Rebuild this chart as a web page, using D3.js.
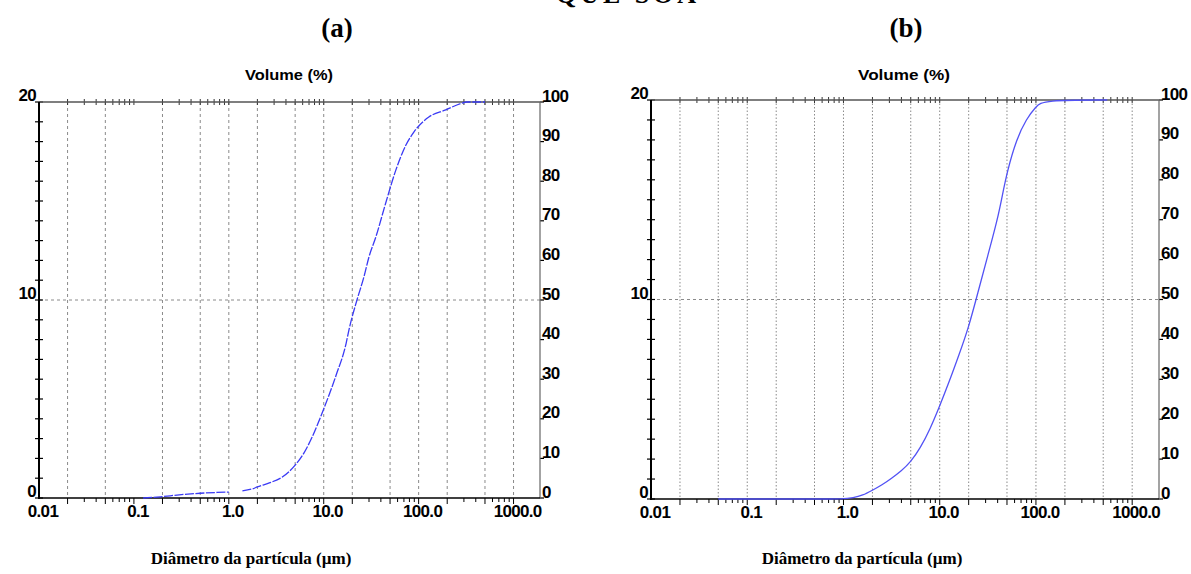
<!DOCTYPE html>
<html>
<head>
<meta charset="utf-8">
<script src="https://cdn.jsdelivr.net/npm/d3@7"></script>
<style>
    body { margin: 0; background: #fff; }
    .lab { font-family: "Liberation Sans", Arial, sans-serif; font-weight: bold; font-size: 17px; fill: #000; letter-spacing: -0.7px; }
    .vol { font-family: "Liberation Sans", Arial, sans-serif; font-weight: bold; font-size: 14px; fill: #000; }
    .serif { font-family: "Liberation Serif", "Times New Roman", serif; font-weight: bold; fill: #000; }
</style>
</head>
<body>
<script>
//particle size distribution, two samples

//x axis labels (µm) and where they sit
var xTickVals = [0.01, 0.1, 1, 10, 100, 1000];
var xTickLabels = ["0.01", "0.1", "1.0", "10.0", "100.0", "1000.0"];
var xDomain = [0.01, 1900];

//left (volume) and right (cumulative) axis labels
var leftTickVals = [0, 10, 20];
var rightTickVals = [0, 10, 20, 30, 40, 50, 60, 70, 80, 90, 100];

//sample (a): diameter (µm) and cumulative volume (%), null = break in the trace
var sizesA = [0.125, 0.19, 0.3, 0.5, 0.75, 1.0, null, 1.39, 1.77, 2.0, 2.67, 3.66, 5.0, 6.2, 7.55, 10, 13.5, 17.2, 18.5,
    22.4, 26.5, 30, 35.5, 45, 57.5, 73, 89, 128, 193, 284, 320, 500];
var cumA = [0, 0.3, 0.8, 1.2, 1.4, 1.5, null, 1.8, 2.3, 2.8, 3.8, 5.3, 8.3, 11.4, 15.4, 22.5, 31, 39, 42.6,
    50, 55.8, 60.9, 66, 74.5, 82.8, 89, 92.4, 96.2, 98, 99.7, 100, 100];

//sample (b)
var sizesB = [0.05, 0.5, 1.0, 1.26, 1.58, 2.0, 2.51, 3.16, 3.98, 5.0, 6.3, 7.94, 10, 12.6, 15.8, 20, 25.1, 31.6,
    39.8, 44.7, 50.1, 63, 79.4, 100, 120, 550];
var cumB = [0, 0, 0, 0.3, 0.9, 2.2, 3.5, 5.2, 7.0, 9.3, 12.8, 17.5, 23.3, 29.5, 36, 43, 52, 61,
    70, 76, 82, 90.3, 95.2, 98.4, 100, 100];

//gridline positions (a has none at 0.1)
var gridA = [0.02, 0.05, 0.2, 0.5, 1, 2, 5, 10, 20, 50, 100, 200, 500, 1000];
var gridB = [0.02, 0.05, 0.1, 0.2, 0.5, 1, 2, 5, 10, 20, 50, 100, 200, 500, 1000];

window.onload = function(){

    var w = 1191, h = 574;

    var svg = d3.select("body")
        .append("svg")
        .attr("width", w)
        .attr("height", h);

    //cropped heading of the page, only the bottom shows
    svg.append("text")
        .attr("class", "serif")
        .attr("x", 556)
        .attr("y", 3)
        .attr("font-size", 26)
        .attr("textLength", 140)
        .text("QUE SOA");

    drawPanel({
        tag: "(a)", tagX: 337,
        left: 39, right: 540, top: 102, bottom: 498,
        sizes: sizesA, cum: cumA, grid: gridA, curve: d3.curveMonotoneX,
        gridDash: "3,3", lineColor: "#3a3af5", lineDash: "9,1.5",
        volX: 289, volW: 88, titleX: 251
    });

    drawPanel({
        tag: "(b)", tagX: 906,
        left: 651, right: 1159, top: 100, bottom: 499,
        sizes: sizesB, cum: cumB, grid: gridB, curve: d3.curveBasis,
        gridDash: "1.5,2", lineColor: "#5252f5", lineDash: null,
        volX: 904, volW: 92, titleX: 862
    });

    function drawPanel(p){
        var g = svg.append("g");

        var x = d3.scaleLog()
            .domain(xDomain)
            .range([p.left, p.right]);

        //left axis 0-20, right axis 0-100 % on the same height
        var yL = d3.scaleLinear().domain([0, 20]).range([p.bottom, p.top]);
        var yR = d3.scaleLinear().domain([0, 100]).range([p.bottom, p.top]);

        //panel tag
        g.append("text")
            .attr("class", "serif")
            .attr("x", p.tagX)
            .attr("y", 37)
            .attr("text-anchor", "middle")
            .attr("font-size", 27)
            .text(p.tag);

        //axis heading
        g.append("text")
            .attr("class", "vol")
            .attr("x", p.volX)
            .attr("y", 80)
            .attr("text-anchor", "middle")
            .attr("textLength", p.volW)
            .attr("lengthAdjust", "spacingAndGlyphs")
            .text("Volume (%)");

        //vertical gridlines
        g.selectAll(".vgrid")
            .data(p.grid)
            .enter()
            .append("line")
            .attr("x1", function(d){ return x(d); })
            .attr("x2", function(d){ return x(d); })
            .attr("y1", p.top)
            .attr("y2", p.bottom)
            .style("stroke", "#8a8a8a")
            .style("stroke-width", 1)
            .style("stroke-dasharray", p.gridDash);

        //horizontal line at 50 %
        g.append("line")
            .attr("x1", p.left)
            .attr("x2", p.right)
            .attr("y1", yR(50))
            .attr("y2", yR(50))
            .style("stroke", "#8a8a8a")
            .style("stroke-width", 1)
            .style("stroke-dasharray", "3,3");

        //minor tick values 1..9 per decade
        var minor = [];
        d3.range(-2, 4).forEach(function(e){
            d3.range(1, 10).forEach(function(m){
                var v = m * Math.pow(10, e);
                if (v > xDomain[0] && v < xDomain[1]) minor.push(v);
            });
        });

        //ticks across the top line
        g.selectAll(".ttick")
            .data(minor)
            .enter()
            .append("line")
            .attr("x1", function(d){ return x(d); })
            .attr("x2", function(d){ return x(d); })
            .attr("y1", p.top - 3)
            .attr("y2", p.top + 3)
            .style("stroke", "#333")
            .style("stroke-width", 1);

        //ticks under the bottom line
        g.selectAll(".btick")
            .data(minor)
            .enter()
            .append("line")
            .attr("x1", function(d){ return x(d); })
            .attr("x2", function(d){ return x(d); })
            .attr("y1", p.bottom)
            .attr("y2", function(d){
                var m = Math.round(d / Math.pow(10, Math.floor(Math.log10(d) + 1e-9)));
                return p.bottom + (m == 1 || m == 2 || m == 5 ? 6 : 4);
            })
            .style("stroke", "#000")
            .style("stroke-width", 1);

        //left axis ticks, one per unit
        g.selectAll(".ltick")
            .data(d3.range(0, 21))
            .enter()
            .append("line")
            .attr("x1", p.left - 4)
            .attr("x2", p.left + 4)
            .attr("y1", function(d){ return yL(d); })
            .attr("y2", function(d){ return yL(d); })
            .style("stroke", "#000")
            .style("stroke-width", 1.2);

        //right axis ticks
        g.selectAll(".rtick")
            .data(rightTickVals)
            .enter()
            .append("line")
            .attr("x1", p.right)
            .attr("x2", p.right + 4)
            .attr("y1", function(d){ return yR(d); })
            .attr("y2", function(d){ return yR(d); })
            .style("stroke", "#000")
            .style("stroke-width", 1.2);

        //frame: top and right grey, left and bottom black
        g.append("line")
            .attr("x1", p.left).attr("x2", p.right)
            .attr("y1", p.top).attr("y2", p.top)
            .style("stroke", "#555").style("stroke-width", 1.6);
        g.append("line")
            .attr("x1", p.right).attr("x2", p.right)
            .attr("y1", p.top).attr("y2", p.bottom)
            .style("stroke", "#666").style("stroke-width", 1.2);
        g.append("line")
            .attr("x1", p.left).attr("x2", p.left)
            .attr("y1", p.top).attr("y2", p.bottom + 1)
            .style("stroke", "#000").style("stroke-width", 2);
        g.append("line")
            .attr("x1", p.left).attr("x2", p.right)
            .attr("y1", p.bottom).attr("y2", p.bottom)
            .style("stroke", "#000").style("stroke-width", 1.6);

        //cumulative curve
        var pts = p.sizes.map(function(s, i){ return [s, p.cum[i]]; });
        var line = d3.line()
            .defined(function(d){ return d[0] != null; })
            .x(function(d){ return x(d[0]); })
            .y(function(d){ return yR(d[1]); })
            .curve(p.curve);

        g.append("path")
            .datum(pts)
            .attr("d", line)
            .style("fill", "none")
            .style("stroke", p.lineColor)
            .style("stroke-width", 1.3)
            .style("stroke-dasharray", p.lineDash);

        //x labels
        g.selectAll(".xlab")
            .data(xTickVals)
            .enter()
            .append("text")
            .attr("class", "lab")
            .attr("x", function(d){ return x(d) + 4; })
            .attr("y", p.bottom + 19)
            .attr("text-anchor", "middle")
            .text(function(d, i){ return xTickLabels[i]; });

        //left labels
        g.selectAll(".llab")
            .data(leftTickVals)
            .enter()
            .append("text")
            .attr("class", "lab")
            .attr("x", p.left - 3)
            .attr("y", function(d){ return yL(d) - 1; })
            .attr("text-anchor", "end")
            .text(function(d){ return d; });

        //right labels
        g.selectAll(".rlab")
            .data(rightTickVals)
            .enter()
            .append("text")
            .attr("class", "lab")
            .attr("x", p.right + 2)
            .attr("y", function(d){ return yR(d) - 0.5; })
            .text(function(d){ return d; });

        //x title
        g.append("text")
            .attr("class", "serif")
            .attr("x", p.titleX)
            .attr("y", 564)
            .attr("text-anchor", "middle")
            .attr("font-size", 17)
            .text("Diâmetro da partícula (µm)");
    }
};
</script>
</body>
</html>
